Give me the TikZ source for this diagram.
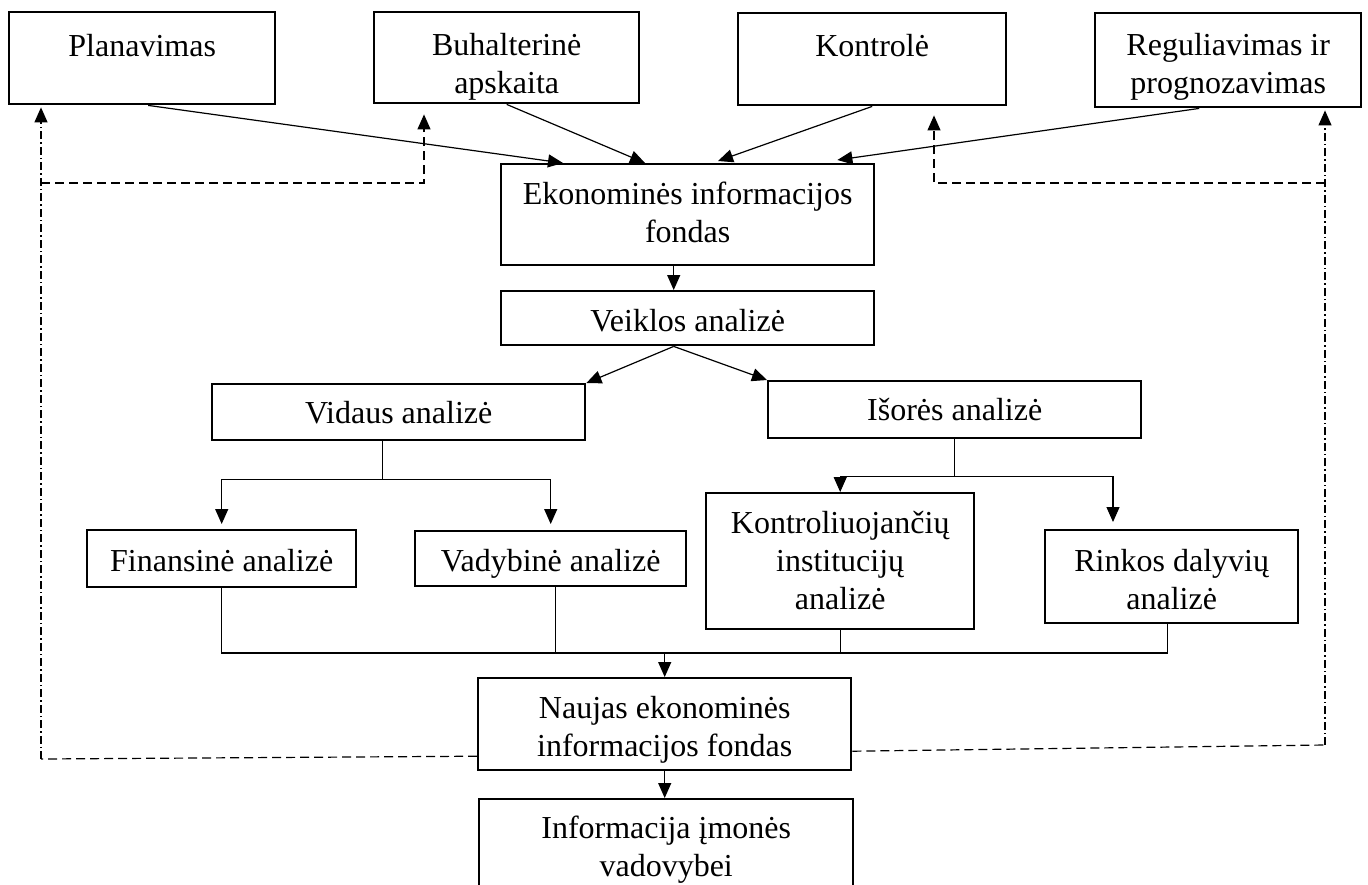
\documentclass[tikz,border=0pt]{standalone}
\usepackage{fontspec}
\setmainfont{Liberation Serif}
\usetikzlibrary{arrows.meta,calc}
% box text: width, height, first-baseline offset, lines (top aligned)
\newcommand\boxlines[4]{\parbox[c][#2pt][t]{#1pt}{\centering\rule{0pt}{#3pt}#4}}
\begin{document}
\begin{tikzpicture}[x=1pt,y=-1pt,
  box/.style={draw, line width=2.4pt, inner sep=0pt, anchor=north west,
              font=\fontsize{32}{38}\selectfont},
  link/.style={line width=1.2pt},
  arr/.style={link, -{Triangle[length=15pt,width=13pt]}},
  fb/.style={line width=1.2pt, dash pattern=on 9pt off 5pt},
  fbdot/.style={line width=1.2pt, dash pattern=on 8pt off 3pt on 1.5pt off 3pt},
  fbarr/.style={-{Triangle[length=15pt,width=13pt]}}
]
\fill[white] (0,0) rectangle (1368,884);
\useasboundingbox (0,0) rectangle (1368,884);

% upper row
\node[box] (plan) at (8,11)    {\boxlines{266}{92}{44}{Planavimas}};
\node[box] (buh)  at (373,11)  {\boxlines{265}{91}{43}{Buhalterinė\\apskaita}};
\node[box] (kont) at (737,12)  {\boxlines{268}{92}{43}{Kontrolė}};
\node[box] (reg)  at (1094,12) {\boxlines{266}{94}{42}{Reguliavimas ir\\prognozavimas}};

% central column
\node[box] (eko)  at (500,163) {\boxlines{373}{101}{40}{Ekonominės informacijos\\fondas}};
\node[box] (veik) at (500,290) {\boxlines{373}{54}{40}{Veiklos analizė}};
\node[box] (vid)  at (211,383) {\boxlines{373}{56}{39}{Vidaus analizė}};
\node[box] (isor) at (767,380) {\boxlines{373}{57}{39}{Išorės analizė}};

% analysis types
\node[box] (fin)   at (86,529)   {\boxlines{269}{57}{41}{Finansinė analizė}};
\node[box] (vad)   at (414,530)  {\boxlines{271}{55}{40}{Vadybinė analizė}};
\node[box] (kontr) at (705,492)  {\boxlines{268}{136}{40}{Kontroliuojančių\\institucijų\\analizė}};
\node[box] (rink)  at (1044,529) {\boxlines{253}{93}{41}{Rinkos dalyvių\\analizė}};

% results
\node[box] (nauj) at (477,677) {\boxlines{373}{92}{40}{Naujas ekonominės\\informacijos fondas}};
\node[box] (info) at (478,798) {\boxlines{374}{110}{39}{Informacija įmonės\\vadovybei}};

% inputs to the information fund
\draw[arr] ($(plan.south)+(6,0)$) -- ($(eko.north west)+(63,0)$);
\draw[arr] (buh.south) -- ($(eko.north west)+(145,0)$);
\draw[arr] (kont.south) -- ($(eko.north west)+(218,-2)$);
\draw[arr] ($(reg.south)+(-29,0)$) -- ($(eko.north east)+(-38,-3)$);

\draw[arr] ($(eko.south)+(-14,0)$) -- ($(veik.north)+(-14,0)$);
\coordinate (apex) at ($(veik.south)+(-14,0)$);
\draw[arr] (apex) -- (vid.north east);
\draw[arr] (apex) -- (isor.north west);

% internal analysis branch
\coordinate (vsplit) at ($(vid.south)+(-16,38)$);
\draw[link] (vsplit |- vid.south) -- (vsplit);
\draw[arr, shorten >=5pt] (vsplit) -| (fin.north);
\draw[arr, shorten >=6pt] (vsplit) -| (vad.north);

% external analysis branch
\coordinate (isplit) at ($(isor.south)+(0,37)$);
\coordinate (rinkin) at ($(rink.north west)+(69,-7)$);
\draw[link] (isor.south) -- ($(isplit)+(0,1)$);
\draw[arr] (isplit) -| (kontr.north);
\draw[arr] (isplit) -| (rinkin);

% collector towards the new fund
\coordinate (merge) at ($(nauj.north)+(0,-24)$);
\coordinate (rinkout) at ($(rink.south)+(-4,0)$);
\coordinate (vadout) at ($(vad.south)+(5,0)$);
\draw[link] (fin.south) |- (rinkout |- merge) -- (rinkout);
\draw[link] (vadout) -- (vadout |- merge);
\draw[link] (kontr.south) -- (kontr.south |- merge);
\draw[arr] (merge) -- (nauj.north);
\draw[arr] (nauj.south) -- (nauj.south |- info.north);

% feedback, left side
\coordinate (lfoot) at (41,759);
\coordinate (lmid) at (41,183);
\coordinate (ltop) at ($(lfoot |- plan.south)+(0,2)$);
\coordinate (btop) at ($(buh.south west)+(51,10)$);
\draw[fb] ($(nauj.west)+(0,32)$) -- (lfoot);
\draw[fbdot, fbarr] (lfoot) -- (ltop);
\draw[fb, fbarr] (lmid) -| (btop);

% feedback, right side
\coordinate (rfoot) at (1325,745);
\coordinate (rmid) at (1325,183);
\coordinate (rtop) at ($(rfoot |- reg.south)+(0,2)$);
\coordinate (ktop) at ($(kont.south west)+(197,9)$);
\draw[fb] ($(nauj.east)+(0,27)$) -- (rfoot);
\draw[fbdot, fbarr] (rfoot) -- (rtop);
\draw[fb, fbarr] (rmid) -| (ktop);
\end{tikzpicture}
\end{document}
